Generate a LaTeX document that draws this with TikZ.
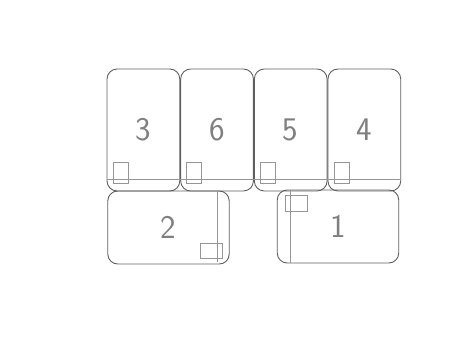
\documentclass[tikz,border=0pt]{standalone}
\definecolor{edgegray}{RGB}{95, 95, 95}
\definecolor{markgray}{RGB}{150, 150, 150}
\usetikzlibrary{positioning}

\begin{document}
\begin{tikzpicture}[x=1pt, y=-1pt,
        card/.style={draw=edgegray, line width=0.9pt, rounded corners=10pt,
                     minimum width=72.75pt, minimum height=122pt, inner sep=0pt,
                     font=\sffamily\fontsize{33}{33}\selectfont, text=edgegray!80},
        wide/.style={card, minimum width=121.5pt, minimum height=73pt},
        tab/.style={draw=markgray, line width=0.6pt, inner sep=0pt},
        fold/.style={draw=markgray, line width=0.6pt}
      ]
        \useasboundingbox (0,0) rectangle (469,337);
        % top row
        \node[card] (c3) at (143.4,130) {3};
        \node[card, right=0pt of c3] (c6) {6};
        \node[card, right=0pt of c6] (c5) {5};
        \node[card, right=0pt of c5] (c4) {4};
        \draw[fold] ([yshift=12pt]c3.south west) -- ([yshift=12pt]c4.south east);
        \foreach \c in {c3, c6, c5, c4}
          \node[tab, minimum width=15pt, minimum height=21pt, anchor=south west]
            at ([shift={(6pt,8pt)}]\c.south west) {};
        % bottom row
        \node[wide] (c2) at (168.5,227.5) {2};
        \node[wide] (c1) at (338,226.5) {1};
        \draw[fold] ([xshift=-12pt]c2.north east) -- ([xshift=-12pt,yshift=2pt]c2.south east);
        \draw[fold] ([xshift=13pt]c1.north west) -- ([xshift=13pt]c1.south west);
        \node[tab, minimum width=22pt, minimum height=15pt, anchor=south east]
          at ([shift={(-7pt,6pt)}]c2.south east) {};
        \node[tab, minimum width=22pt, minimum height=16pt, anchor=north west]
          at ([shift={(8pt,-5pt)}]c1.north west) {};
      \end{tikzpicture}
\end{document}
